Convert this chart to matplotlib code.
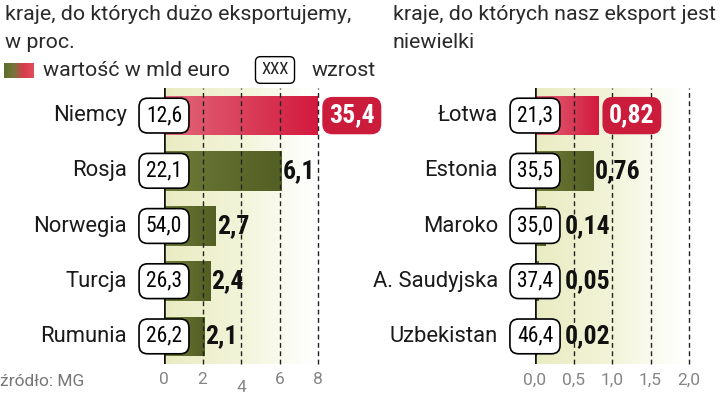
import numpy as np
import matplotlib
matplotlib.use("Agg")
import matplotlib.pyplot as plt
from matplotlib import font_manager
from matplotlib.colors import LinearSegmentedColormap

# data
left_countries = ["Niemcy", "Rosja", "Norwegia", "Turcja", "Rumunia"]
left_values = [35.4, 6.1, 2.7, 2.4, 2.1]
left_growth = ["12,6", "22,1", "54,0", "26,3", "26,2"]
left_labels = ["35,4", "6,1", "2,7", "2,4", "2,1"]
left_ticks = [0, 2, 4, 6, 8]
left_ticklabels = ["0", "2", "4", "6", "8"]

right_countries = ["Łotwa", "Estonia", "Maroko", "A. Saudyjska", "Uzbekistan"]
right_values = [0.82, 0.76, 0.14, 0.05, 0.02]
right_growth = ["21,3", "35,5", "35,0", "37,4", "46,4"]
right_labels = ["0,82", "0,76", "0,14", "0,05", "0,02"]
right_ticks = [0, 0.5, 1.0, 1.5, 2.0]
right_ticklabels = ["0,0", "0,5", "1,0", "1,5", "2,0"]

names = {f.name for f in font_manager.fontManager.ttflist}
cond = "Roboto Condensed" if "Roboto Condensed" in names else "Roboto"
plt.rcParams['font.family'] = ["Roboto", "DejaVu Sans"]
COND = [cond, "DejaVu Sans"]

W, H = 720, 396
fig = plt.figure(figsize=(7.2, 3.96), dpi=100)


def fx(p):
    return p / W


def fy(p):
    return 1 - p / H


red_cm = LinearSegmentedColormap.from_list("r", ["#e2687a", "#d31a3e"])
green_cm = LinearSegmentedColormap.from_list("g", ["#6f7c38", "#535e24"])
bg_cm = LinearSegmentedColormap.from_list("bg", ["#e9ecc2", "#f2f4d8", "#ffffff"])


def panel(x0, countries, values, growth, labels, ticks, ticklabels, low_tick=None):
    xmax = ticks[-1]
    ax = fig.add_axes([fx(x0), fy(364), fx(154), (364 - 88) / H])
    ax.axis("off")
    ax.set_autoscale_on(False)
    ax.set_xlim(0, xmax)
    ax.set_ylim(4.5, -0.5)
    grad = np.linspace(0, 1, 256).reshape(1, -1)
    ax.imshow(grad, extent=[0, xmax * 0.97, 4.5, -0.5], aspect="auto", cmap=bg_cm, zorder=0)
    y = np.arange(len(countries))
    bars = ax.barh(y, values, height=0.72, color="none", zorder=2)
    for i, b in enumerate(bars):
        cm = red_cm if i == 0 else green_cm
        x1 = min(values[i], xmax)
        im = ax.imshow(grad, extent=[0, x1, y[i] + 0.36, y[i] - 0.36], aspect="auto", cmap=cm, zorder=2)
        im.set_clip_path(b)
    for t in ticks[1:]:
        ax.plot([t, t], [4.5, -0.5], color="#222222", lw=1.0, ls=(0, (3.5, 2.5)), zorder=3, clip_on=False)
    ax.axvline(0, color="#111111", lw=2.6, zorder=4)
    unit = xmax / 154.0  # data per pixel
    for i in range(len(countries)):
        ax.text(-37 * unit, y[i], countries[i], ha="right", va="center", fontsize=15.8, zorder=5,
                clip_on=False, color="#1a1a1a")
        ax.text(0, y[i], growth[i], ha="center", va="center", fontsize=15.5, zorder=6, clip_on=False,
                family=COND,
                bbox=dict(boxstyle="round,pad=0.32,rounding_size=0.4", fc="white", ec="black", lw=1.2))
        end = min(values[i], xmax)
        if i == 0:
            ax.text(end + 11 * unit, y[i], labels[i], ha="left", va="center", fontsize=18.5, weight="bold",
                    color="white", zorder=6, clip_on=False, family=COND,
                    bbox=dict(boxstyle="round,pad=0.26,rounding_size=0.4", fc="#cc1c3c", ec="none"))
        else:
            ax.text(max(end, 29 * unit) + 1 * unit, y[i], labels[i], ha="left", va="center", fontsize=18.5,
                    weight="bold", color="#111111", zorder=6, clip_on=False, family=COND)
    for t, lab in zip(ticks, ticklabels):
        dy = 24 if t == low_tick else 16
        ax.annotate(lab, (t, 4.5), xytext=(0, -dy), textcoords="offset pixels", ha="center", va="center",
                    fontsize=12.5, color="#858585", annotation_clip=False)
    return ax


panel(164, left_countries, left_values, left_growth, left_labels, left_ticks, left_ticklabels, low_tick=4)
panel(535, right_countries, right_values, right_growth, right_labels, right_ticks, right_ticklabels)

# titles
tkw = dict(fontsize=15.4, color="#2a2a2a", va="center")
fig.text(fx(5), fy(15), "kraje, do których dużo eksportujemy,", **tkw)
fig.text(fx(5), fy(42), "w proc.", **tkw)
fig.text(fx(393), fy(15), "kraje, do których nasz eksport jest", **tkw)
fig.text(fx(393), fy(42), "niewielki", **tkw)

# legend
lax = fig.add_axes([fx(4), fy(78), fx(30), 15 / H])
lax.axis("off")
lax.imshow(np.linspace(0, 1, 256).reshape(1, -1), aspect="auto",
           cmap=LinearSegmentedColormap.from_list("lg", ["#5e6b2c", "#76763a", "#d83a4c", "#e0505e"]))
fig.text(fx(43), fy(70), "wartość w mld euro", **tkw)
fig.text(fx(275), fy(70), "XXX", fontsize=12, color="#222222", va="center", ha="center", family=COND,
         bbox=dict(boxstyle="round,pad=0.35,rounding_size=0.3", fc="white", ec="black", lw=1.0))
fig.text(fx(312), fy(70), "wzrost", **tkw)

fig.text(fx(0), fy(381), "źródło: MG", fontsize=12.5, color="#777777", va="center")

fig.savefig("out.png", dpi=100)
